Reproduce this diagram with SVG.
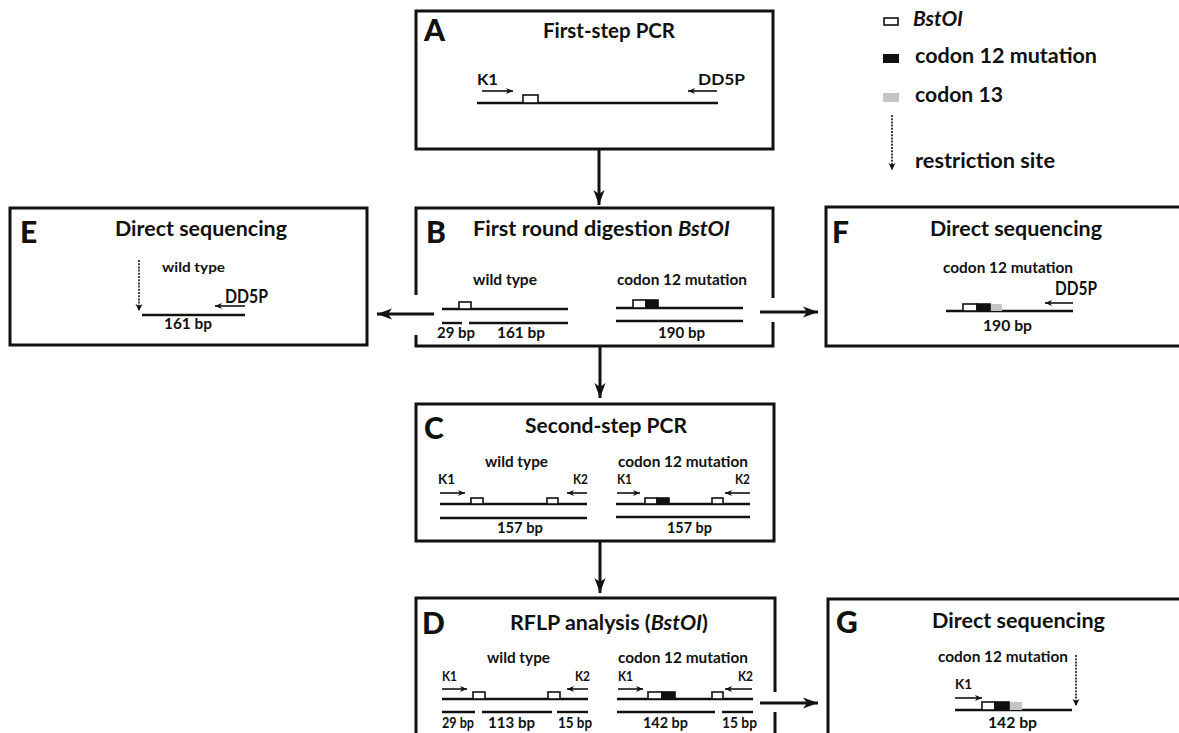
<svg xmlns="http://www.w3.org/2000/svg" width="1179" height="733" viewBox="0 0 1179 733">
<style>
text{font-family:Lato,"Liberation Sans",sans-serif;font-weight:bold;fill:#111}
.big{font-size:30px;font-weight:900}
.ttl{font-size:20px}
.leg{font-size:20px}
.lab{font-size:15px}
.bp{font-size:15px}
.k{font-size:13px}
.box{fill:none;stroke:#111;stroke-width:3}
.dna{stroke:#111;stroke-width:2.4;fill:none}
.pr{stroke:#111;stroke-width:1.6;fill:none;marker-end:url(#sm)}
.dot{stroke:#111;stroke-width:1.6;stroke-dasharray:2 1.2;fill:none;marker-end:url(#dm)}
.conn{stroke:#111;stroke-width:3;fill:none;marker-end:url(#bg)}
.w{fill:#fff;stroke:#111;stroke-width:1.6}
.b{fill:#111;stroke:#111;stroke-width:1.6}
.g{fill:#c4c4c4;stroke:none}
</style>
<defs>
<marker id="bg" markerUnits="userSpaceOnUse" markerWidth="16" markerHeight="12" refX="15" refY="6" orient="auto" overflow="visible"><path d="M0,0.5 L15,6 L0,11.5 L4,6 z" fill="#111"/></marker>
<marker id="sm" markerUnits="userSpaceOnUse" markerWidth="8" markerHeight="6" refX="7" refY="3" orient="auto" overflow="visible"><path d="M0,0 L7,3 L0,6 L2,3 z" fill="#111"/></marker>
<marker id="dm" markerUnits="userSpaceOnUse" markerWidth="8" markerHeight="8" refX="7" refY="3.5" orient="auto" overflow="visible"><path d="M0,0 L7,3.5 L0,7 L2,3.5 z" fill="#111"/></marker>
</defs>
<rect width="1179" height="733" fill="#fff"/>

<g id="legend">
<rect x="884" y="18" width="14" height="7" class="w" stroke-width="2"/>
<text class="leg" x="913" y="26" textLength="50" lengthAdjust="spacingAndGlyphs" font-style="italic">BstOI</text>
<rect x="883" y="54" width="16" height="9" fill="#111"/>
<text class="leg" x="915" y="63" textLength="182" lengthAdjust="spacingAndGlyphs">codon 12 mutation</text>
<rect x="883" y="93" width="16" height="9" fill="#c4c4c4"/>
<text class="leg" x="915" y="102" textLength="88" lengthAdjust="spacingAndGlyphs">codon 13</text>
<line x1="892" y1="115" x2="892" y2="170" class="dot"/>
<text class="leg" x="915" y="168" textLength="140" lengthAdjust="spacingAndGlyphs">restriction site</text>
</g>

<g id="nodeA">
<rect x="416" y="11" width="357" height="138" class="box"/>
<text class="big" x="424" y="41">A</text>
<text class="ttl" x="543" y="38" textLength="132" lengthAdjust="spacingAndGlyphs">First-step PCR</text>
<text x="477" y="85" textLength="21" lengthAdjust="spacingAndGlyphs" font-size="16">K1</text>
<text x="698" y="85" textLength="47" lengthAdjust="spacingAndGlyphs" font-size="16">DD5P</text>
<line x1="482" y1="91" x2="513" y2="91" class="pr"/>
<line x1="717" y1="91" x2="688" y2="91" class="pr"/>
<line x1="477" y1="103" x2="718" y2="103" class="dna"/>
<rect x="523" y="95" width="15" height="8" class="w"/>
</g>

<g id="nodeB">
<path d="M416,295 V208 H773 V298 M773,322 V346 H416 V335" class="box"/>
<text class="big" x="426" y="243">B</text>
<text class="ttl" x="473" y="236" textLength="257" lengthAdjust="spacingAndGlyphs">First round digestion <tspan font-style="italic">BstOI</tspan></text>
<text class="lab" x="473" y="285" textLength="64" lengthAdjust="spacingAndGlyphs">wild type</text>
<text class="lab" x="617" y="285" textLength="130" lengthAdjust="spacingAndGlyphs">codon 12 mutation</text>
<line x1="442" y1="309" x2="568" y2="309" class="dna"/>
<rect x="459" y="302" width="12" height="7" class="w"/>
<line x1="442" y1="323" x2="462" y2="323" class="dna"/>
<line x1="469" y1="323" x2="568" y2="323" class="dna"/>
<text class="bp" x="437" y="338" textLength="38" lengthAdjust="spacingAndGlyphs">29 bp</text>
<text class="bp" x="497" y="338" textLength="48" lengthAdjust="spacingAndGlyphs">161 bp</text>
<line x1="616" y1="308" x2="743" y2="308" class="dna"/>
<rect x="633" y="300" width="13" height="8" class="w"/>
<rect x="646" y="300" width="12" height="8" class="b"/>
<line x1="616" y1="321" x2="743" y2="321" class="dna"/>
<text class="bp" x="658" y="338" textLength="47" lengthAdjust="spacingAndGlyphs">190 bp</text>
</g>

<g id="nodeC">
<rect x="416" y="404" width="358" height="137" class="box"/>
<text class="big" x="424" y="439">C</text>
<text class="ttl" x="525" y="433" textLength="162" lengthAdjust="spacingAndGlyphs">Second-step PCR</text>
<text class="lab" x="485" y="467" textLength="63" lengthAdjust="spacingAndGlyphs">wild type</text>
<text class="lab" x="618" y="467" textLength="130" lengthAdjust="spacingAndGlyphs">codon 12 mutation</text>
<text class="k" x="438" y="484" textLength="17" lengthAdjust="spacingAndGlyphs">K1</text>
<text class="k" x="573" y="484" textLength="15" lengthAdjust="spacingAndGlyphs">K2</text>
<text class="k" x="617" y="484" textLength="15" lengthAdjust="spacingAndGlyphs">K1</text>
<text class="k" x="735" y="484" textLength="15" lengthAdjust="spacingAndGlyphs">K2</text>
<line x1="440" y1="493" x2="465" y2="493" class="pr"/>
<line x1="587" y1="493" x2="567" y2="493" class="pr" stroke-width="2"/>
<line x1="440" y1="504" x2="587" y2="504" class="dna"/>
<rect x="471" y="498" width="12" height="6" class="w"/>
<rect x="547" y="498" width="11" height="6" class="w"/>
<line x1="440" y1="518" x2="587" y2="518" class="dna"/>
<text class="bp" x="497" y="533" textLength="46" lengthAdjust="spacingAndGlyphs">157 bp</text>
<line x1="617" y1="493" x2="640" y2="493" class="pr"/>
<line x1="750" y1="493" x2="725" y2="493" class="pr"/>
<line x1="616" y1="504" x2="750" y2="504" class="dna"/>
<rect x="645" y="498" width="12" height="6" class="w"/>
<rect x="657" y="498" width="12" height="6" class="b"/>
<rect x="712" y="498" width="11" height="6" class="w"/>
<line x1="616" y1="517" x2="750" y2="517" class="dna"/>
<text class="bp" x="667" y="533" textLength="45" lengthAdjust="spacingAndGlyphs">157 bp</text>
</g>

<g id="nodeD">
<path d="M775,692 V598 H416 V745 M775,712 V745" class="box"/>
<text class="big" x="422" y="634">D</text>
<text class="ttl" x="510" y="630" textLength="198" lengthAdjust="spacingAndGlyphs">RFLP analysis (<tspan font-style="italic">BstOI</tspan>)</text>
<text class="lab" x="487" y="663" textLength="63" lengthAdjust="spacingAndGlyphs">wild type</text>
<text class="lab" x="618" y="663" textLength="130" lengthAdjust="spacingAndGlyphs">codon 12 mutation</text>
<text class="k" x="442" y="681" textLength="15" lengthAdjust="spacingAndGlyphs">K1</text>
<text class="k" x="575" y="681" textLength="15" lengthAdjust="spacingAndGlyphs">K2</text>
<text class="k" x="618" y="681" textLength="15" lengthAdjust="spacingAndGlyphs">K1</text>
<text class="k" x="738" y="681" textLength="15" lengthAdjust="spacingAndGlyphs">K2</text>
<line x1="442" y1="689" x2="467" y2="689" class="pr"/>
<line x1="588" y1="689" x2="567" y2="689" class="pr"/>
<line x1="442" y1="699" x2="588" y2="699" class="dna"/>
<rect x="473" y="692" width="12" height="7" class="w"/>
<rect x="548" y="692" width="12" height="7" class="w"/>
<line x1="442" y1="712" x2="475" y2="712" class="dna"/>
<line x1="482" y1="712" x2="552" y2="712" class="dna"/>
<line x1="557" y1="712" x2="588" y2="712" class="dna"/>
<text class="bp" x="442" y="728" textLength="32" lengthAdjust="spacingAndGlyphs">29 bp</text>
<text class="bp" x="488" y="728" textLength="47" lengthAdjust="spacingAndGlyphs">113 bp</text>
<text class="bp" x="558" y="728" textLength="34" lengthAdjust="spacingAndGlyphs">15 bp</text>
<line x1="618" y1="689" x2="643" y2="689" class="pr"/>
<line x1="752" y1="689" x2="725" y2="689" class="pr"/>
<line x1="617" y1="699" x2="753" y2="699" class="dna"/>
<rect x="648" y="692" width="14" height="7" class="w"/>
<rect x="662" y="692" width="13" height="7" class="b"/>
<rect x="712" y="692" width="11" height="7" class="w"/>
<line x1="617" y1="712" x2="715" y2="712" class="dna"/>
<line x1="722" y1="712" x2="753" y2="712" class="dna"/>
<text class="bp" x="643" y="728" textLength="45" lengthAdjust="spacingAndGlyphs">142 bp</text>
<text class="bp" x="722" y="728" textLength="35" lengthAdjust="spacingAndGlyphs">15 bp</text>
</g>

<g id="nodeE">
<rect x="10" y="208" width="357" height="137" class="box"/>
<text class="big" x="20" y="243">E</text>
<text class="ttl" x="115" y="236" textLength="172" lengthAdjust="spacingAndGlyphs">Direct sequencing</text>
<text x="162" y="272" textLength="63" lengthAdjust="spacingAndGlyphs" font-size="14">wild type</text>
<line x1="139" y1="260" x2="139" y2="311" class="dot"/>
<text x="225" y="303" textLength="43" lengthAdjust="spacingAndGlyphs" font-size="18">DD5P</text>
<line x1="245" y1="306" x2="215" y2="306" class="pr"/>
<line x1="142" y1="315" x2="245" y2="315" class="dna"/>
<text class="bp" x="164" y="329" textLength="48" lengthAdjust="spacingAndGlyphs">161 bp</text>
</g>

<g id="nodeF">
<rect x="826" y="207" width="360" height="139" class="box"/>
<text class="big" x="832" y="243">F</text>
<text class="ttl" x="930" y="236" textLength="172" lengthAdjust="spacingAndGlyphs">Direct sequencing</text>
<text class="lab" x="943" y="273" textLength="130" lengthAdjust="spacingAndGlyphs">codon 12 mutation</text>
<text x="1055" y="295" textLength="42" lengthAdjust="spacingAndGlyphs" font-size="18">DD5P</text>
<line x1="1073" y1="303" x2="1045" y2="303" class="pr"/>
<line x1="946" y1="311" x2="1073" y2="311" class="dna"/>
<rect x="990" y="304" width="12" height="7" class="g"/>
<rect x="963" y="304" width="14" height="7" class="w"/>
<rect x="977" y="304" width="13" height="7" class="b"/>
<text class="bp" x="983" y="331" textLength="49" lengthAdjust="spacingAndGlyphs">190 bp</text>
</g>

<g id="nodeG">
<path d="M828,745 V599 H1186" class="box"/>
<text class="big" x="836" y="633">G</text>
<text class="ttl" x="932" y="628" textLength="173" lengthAdjust="spacingAndGlyphs">Direct sequencing</text>
<text class="lab" x="938" y="662" textLength="130" lengthAdjust="spacingAndGlyphs">codon 12 mutation</text>
<line x1="1076" y1="655" x2="1076" y2="706" class="dot"/>
<text class="k" x="955" y="689" textLength="17" lengthAdjust="spacingAndGlyphs">K1</text>
<line x1="955" y1="698" x2="982" y2="698" class="pr"/>
<line x1="955" y1="710" x2="1072" y2="710" class="dna"/>
<rect x="1009" y="702" width="13" height="8" class="g"/>
<rect x="982" y="702" width="13" height="8" class="w"/>
<rect x="995" y="702" width="14" height="8" class="b"/>
<text class="bp" x="988" y="728" textLength="49" lengthAdjust="spacingAndGlyphs">142 bp</text>
</g>

<g id="connectors">
<line x1="599" y1="149" x2="599" y2="205" class="conn"/>
<line x1="600" y1="346" x2="600" y2="398" class="conn"/>
<line x1="600" y1="541" x2="600" y2="593" class="conn"/>
<line x1="434" y1="314" x2="377" y2="314" class="conn"/>
<line x1="760" y1="312" x2="818" y2="312" class="conn"/>
<line x1="760" y1="703" x2="818" y2="703" class="conn"/>
</g>
</svg>
